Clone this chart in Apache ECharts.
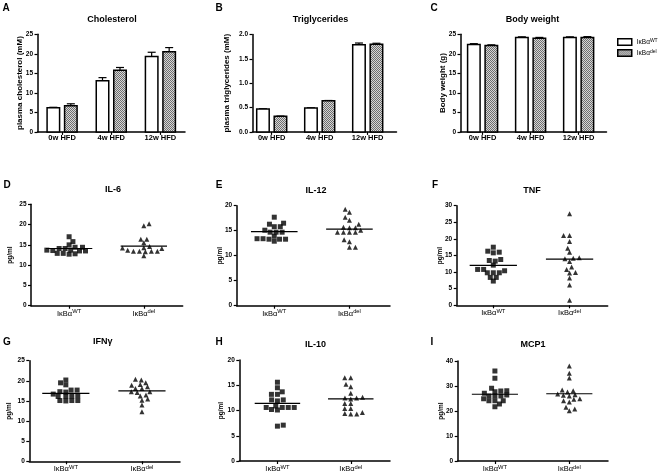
<!DOCTYPE html>
<html><head><meta charset="utf-8">
<script src="https://cdn.jsdelivr.net/npm/echarts@6/dist/echarts.min.js"></script>
<style>html,body{margin:0;padding:0;background:#fff}#c{width:661px;height:475px}</style>
</head><body><div id="c"></div>
<script>
// ---------------- DATA ----------------
const barCategories = ['0w HFD', '4w HFD', '12w HFD'];
const groupMain = ['IκBα', 'IκBα'];
const groupSup = ['WT', 'del'];

const cholWT = [6.2, 13.1, 19.3];
const cholWTErr = [0.1, 0.8, 1.1];
const cholDel = [6.7, 15.8, 20.5];
const cholDelErr = [0.5, 0.7, 1.1];

const tgWT = [0.47, 0.49, 1.79];
const tgWTErr = [0.005, 0.005, 0.035];
const tgDel = [0.32, 0.64, 1.80];
const tgDelErr = [0.005, 0.005, 0.02];

const bwWT = [22.4, 24.2, 24.2];
const bwWTErr = [0.2, 0.15, 0.15];
const bwDel = [22.1, 24.0, 24.2];
const bwDelErr = [0.2, 0.2, 0.2];

const il6WT = [17.0, 15.8, 15.0, 14.4, 14.4, 14.1, 14.1, 13.7, 13.5, 13.7, 13.6, 12.8, 12.7, 12.9, 12.9, 13.5];
const il6Del = [20.2, 19.7, 16.4, 16.4, 15.5, 14.6, 14.2, 14.3, 13.4, 13.4, 13.7, 13.3, 13.4, 13.4, 12.3, 14.1];
const il6Mean = [14.1, 14.7];

const il12WT = [17.7, 16.5, 16.3, 15.8, 15.8, 15.1, 14.7, 14.7, 14.7, 13.4, 13.3, 13.3, 13.3, 13.4, 13.9, 12.9];
const il12Del = [19.3, 18.7, 17.7, 17.1, 16.3, 15.7, 15.6, 15.1, 15.6, 14.7, 14.7, 14.7, 14.7, 12.8, 13.2, 11.7, 11.7];
const il12Mean = [14.8, 15.3];

const tnfWT = [17.5, 16.0, 15.8, 16.3, 13.5, 13.3, 13.8, 12.1, 10.8, 10.4, 10.8, 9.8, 9.8, 9.8, 8.4, 8.4, 7.3];
const tnfDel = [27.6, 21.0, 21.0, 19.2, 17.2, 16.0, 14.2, 14.0, 14.3, 13.2, 11.5, 10.8, 9.9, 9.7, 8.2, 6.1, 1.5];
const tnfMean = [12.0, 13.9];

const ifnWT = [20.2, 19.5, 19.0, 17.7, 17.3, 17.7, 16.7, 17.2, 16.2, 16.1, 16.3, 16.1, 15.1, 15.0, 15.1, 15.1];
const ifnDel = [20.4, 20.2, 19.1, 18.5, 19.5, 18.9, 18.1, 18.1, 17.3, 17.1, 17.3, 16.2, 16.5, 15.2, 15.5, 14.0, 12.3];
const ifnMean = [16.9, 17.5];

const il10WT = [15.6, 14.5, 13.7, 13.2, 13.2, 12.1, 12.1, 11.9, 10.6, 10.6, 10.6, 10.6, 10.9, 10.1, 10.2, 6.9, 7.1];
const il10Del = [16.5, 16.5, 15.2, 14.7, 13.4, 12.6, 12.5, 12.3, 12.5, 11.4, 11.4, 10.4, 10.4, 9.4, 9.3, 9.3, 9.6];
const il10Mean = [11.4, 12.3];

const mcpWT = [36.0, 33.1, 29.1, 28.0, 27.7, 28.1, 27.1, 26.4, 26.0, 26.0, 26.0, 24.1, 24.1, 24.1, 24.9, 22.8, 21.7];
const mcpDel = [38.0, 35.1, 33.2, 28.4, 27.6, 28.1, 26.8, 26.3, 26.0, 26.5, 24.9, 24.1, 23.6, 24.7, 21.5, 20.1, 20.8];
const mcpMean = [26.7, 26.9];

// ---------------- LAYOUT / STYLE ----------------
const FONT = '"Liberation Sans", Arial, Helvetica, sans-serif';

function makePattern() {
  const c = document.createElement('canvas'); c.width = 2; c.height = 2;
  const ctx = c.getContext('2d');
  ctx.fillStyle = '#d6d6d6'; ctx.fillRect(0, 0, 2, 2);
  ctx.fillStyle = '#6e6e6e'; ctx.fillRect(0, 0, 1, 1); ctx.fillRect(1, 1, 1, 1);
  return c;
}
const hatch = { image: makePattern(), repeat: 'repeat' };

const barPanels = [
  { letter: 'A', title: 'Cholesterol', yName: 'plasma cholesterol (mM)', wt: cholWT, wtErr: cholWTErr, del: cholDel, delErr: cholDelErr,
    ymax: 25, step: 5, dec: 0, grid: { left: 37.5, top: 34.3, width: 147.5, height: 97.6 }, xmin: 0.5, xmax: 3.5, nameGap: 13.3,
    tx: 112, ty: 19.5, lx: 6, ly: 8 },
  { letter: 'B', title: 'Triglycerides', yName: 'plasma triglycerides (mM)', wt: tgWT, wtErr: tgWTErr, del: tgDel, delErr: tgDelErr,
    ymax: 2, step: 0.5, dec: 1, grid: { left: 252.5, top: 34.5, width: 144, height: 97.4 }, xmin: 0.6, xmax: 3.6, nameGap: 21.5,
    tx: 320.5, ty: 20, lx: 219, ly: 8 },
  { letter: 'C', title: 'Body weight', yName: 'Body weight (g)', wt: bwWT, wtErr: bwWTErr, del: bwDel, delErr: bwDelErr,
    ymax: 25, step: 5, dec: 0, grid: { left: 460.5, top: 34.3, width: 146, height: 97.6 }, xmin: 0.54, xmax: 3.58, nameGap: 14,
    tx: 532.5, ty: 20, lx: 434, ly: 8 }
];

const dotPanels = [
  { letter: 'D', title: 'IL-6', wt: il6WT, del: il6Del, mean: il6Mean, ymax: 25, step: 5,
    grid: { left: 31, top: 204.3, width: 151.7, height: 101.4 }, xmin: 0.49, xmax: 2.52, nameGap: 17, tx: 113, ty: 190, lx: 7, ly: 185 },
  { letter: 'E', title: 'IL-12', wt: il12WT, del: il12Del, mean: il12Mean, ymax: 20, step: 5,
    grid: { left: 236.7, top: 205.7, width: 153.3, height: 100 }, xmin: 0.5, xmax: 2.54, nameGap: 12.5, tx: 316, ty: 190.7, lx: 219, ly: 185 },
  { letter: 'F', title: 'TNF', wt: tnfWT, del: tnfDel, mean: tnfMean, ymax: 30, step: 5,
    grid: { left: 456.7, top: 205.7, width: 151, height: 99.6 }, xmin: 0.52, xmax: 2.5, nameGap: 13, tx: 532, ty: 190.7, lx: 435, ly: 185 },
  { letter: 'G', title: 'IFNγ', wt: ifnWT, del: ifnDel, mean: ifnMean, ymax: 25, step: 5,
    grid: { left: 29.3, top: 360.7, width: 150.7, height: 100.6 }, xmin: 0.52, xmax: 2.5, nameGap: 16.3, tx: 102.7, ty: 341.5, lx: 7, ly: 342 },
  { letter: 'H', title: 'IL-10', wt: il10WT, del: il10Del, mean: il10Mean, ymax: 20, step: 5,
    grid: { left: 239.3, top: 360, width: 150.7, height: 101 }, xmin: 0.48, xmax: 2.535, nameGap: 14.8, tx: 315.5, ty: 344.5, lx: 219, ly: 342 },
  { letter: 'I', title: 'MCP1', wt: mcpWT, del: mcpDel, mean: mcpMean, ymax: 40, step: 10,
    grid: { left: 457.7, top: 361, width: 150.3, height: 100 }, xmin: 0.5, xmax: 2.52, nameGap: 12.5, tx: 533, ty: 345, lx: 432, ly: 342 }
];

// beeswarm arrangement: each dot keeps its value and is pushed sideways just enough
// to clear an elliptical exclusion zone (a wide, b tall) around its neighbours
function beeswarm(values, center, pxX, pxY, a, b) {
  const order = values.map((v, i) => i).sort((p, q) => values[p] - values[q]);
  const placed = [], out = [];
  order.forEach((i) => {
    const y = values[i] * pxY;
    const iv = [];
    placed.forEach((p) => {
      const dy = Math.abs(p.y - y);
      if (dy < b) { const w = a * Math.sqrt(1 - (dy / b) * (dy / b)); iv.push([p.x - w, p.x + w]); }
    });
    const sum = placed.reduce((s, p) => s + p.x, 0);
    const pref = sum > 0 ? -1 : 1;
    const cands = [0];
    iv.forEach((r) => cands.push(r[0], r[1]));
    cands.sort((m, n) => (Math.abs(m) - Math.abs(n)) || (m * pref > 0 ? -1 : 1));
    let x = 0;
    for (const c of cands) {
      if (iv.every((r) => c <= r[0] + 1e-6 || c >= r[1] - 1e-6)) { x = c; break; }
    }
    placed.push({ x: x, y: y });
    out.push([center + x / pxX, values[i]]);
  });
  return out;
}

const lineStyleAxis = { color: '#000', width: 1.5 };
const tickStyle = { color: '#000', width: 1.2 };
const supRich = {
  m: { fontSize: 7.5, fontFamily: FONT, color: '#000', lineHeight: 9, verticalAlign: 'bottom' },
  s: { fontSize: 5.8, fontFamily: FONT, color: '#000', lineHeight: 2, verticalAlign: 'top' }
};

const grids = [], xAxes = [], yAxes = [], series = [], graphics = [];

function yAxisOpt(gi, p, name, fmt, nameSize) {
  return {
    type: 'value', gridIndex: gi, min: 0, max: p.ymax, interval: p.step,
    axisLine: { show: true, onZero: false, lineStyle: lineStyleAxis },
    axisTick: { show: true, length: 3, lineStyle: tickStyle },
    axisLabel: { margin: 4.5, fontSize: 6.5, fontWeight: 'bold', fontFamily: FONT, color: '#000', formatter: fmt },
    splitLine: { show: false },
    name: name, nameLocation: 'middle', nameGap: p.nameGap, nameMoveOverlap: false,
    nameTextStyle: { fontSize: nameSize, fontWeight: 'bold', fontFamily: FONT, color: '#000' }
  };
}

function addText(x, y, text, size, weight) {
  graphics.push({ type: 'text', x: x, y: y, silent: true,
    style: { text: text, fill: '#000', font: weight + ' ' + size + 'px ' + FONT, textAlign: 'center', textVerticalAlign: 'middle' } });
}

function barRender(side, fill) {
  return function (params, api) {
    const x = api.value(0), v = api.value(1), e = api.value(2);
    const base = api.coord([x, 0]);
    const top = api.coord([x, v]);
    const et = api.coord([x, v + e]);
    const bw = 12.5, gap = 5;
    const cx = base[0] + side * (gap / 2 + bw / 2);
    return { type: 'group', children: [
      { type: 'line', shape: { x1: cx, y1: top[1], x2: cx, y2: et[1] }, style: { stroke: '#000', lineWidth: 1.2 } },
      { type: 'line', shape: { x1: cx - 4, y1: et[1], x2: cx + 4, y2: et[1] }, style: { stroke: '#000', lineWidth: 1.2 } },
      { type: 'rect', shape: { x: cx - bw / 2, y: top[1], width: bw, height: base[1] - top[1] }, style: { fill: fill, stroke: '#000', lineWidth: 1.5 } }
    ] };
  };
}

let gi = 0;
barPanels.forEach((p) => {
  grids.push(Object.assign({ containLabel: false }, p.grid));
  xAxes.push({
    type: 'value', gridIndex: gi, min: p.xmin, max: p.xmax,
    axisLine: { show: true, onZero: false, lineStyle: lineStyleAxis },
    axisTick: { show: true, length: 3, customValues: [1, 2, 3], lineStyle: tickStyle },
    axisLabel: { show: true, customValues: [1, 2, 3], margin: 2, fontSize: 7.5, fontWeight: 'bold', fontFamily: FONT, color: '#000',
      formatter: (v) => barCategories[Math.round(v) - 1] },
    splitLine: { show: false }
  });
  yAxes.push(yAxisOpt(gi, p, p.yName, (v) => p.dec ? v.toFixed(p.dec) : String(v), 8));
  series.push({ type: 'custom', name: 'WT', xAxisIndex: gi, yAxisIndex: gi, itemStyle: { color: '#fff', borderColor: '#000' },
    renderItem: barRender(-1, '#fff'), data: p.wt.map((v, i) => [i + 1, v, p.wtErr[i]]) });
  series.push({ type: 'custom', name: 'del', xAxisIndex: gi, yAxisIndex: gi, itemStyle: { color: hatch, borderColor: '#000' },
    renderItem: barRender(1, hatch), data: p.del.map((v, i) => [i + 1, v, p.delErr[i]]) });
  addText(p.tx, p.ty, p.title, 9, 'bold');
  addText(p.lx, p.ly, p.letter, 10, 'bold');
  gi++;
});

dotPanels.forEach((p) => {
  grids.push(Object.assign({ containLabel: false }, p.grid));
  xAxes.push({
    type: 'value', gridIndex: gi, min: p.xmin, max: p.xmax,
    axisLine: { show: true, onZero: false, lineStyle: lineStyleAxis },
    axisTick: { show: true, length: 3, customValues: [1, 2], lineStyle: tickStyle },
    axisLabel: { show: true, customValues: [1, 2], margin: 3, rich: supRich,
      formatter: (v) => { const k = Math.round(v) - 1; return '{m|' + groupMain[k] + '}{s|' + groupSup[k] + '}'; } },
    splitLine: { show: false }
  });
  yAxes.push(yAxisOpt(gi, p, 'pg/ml', (v) => String(v), 6.5));
  const pxX = p.grid.width / (p.xmax - p.xmin);
  const pxY = p.grid.height / p.ymax;
  series.push({ type: 'scatter', name: p.title + ' WT', xAxisIndex: gi, yAxisIndex: gi, symbol: 'rect', symbolSize: 5,
    itemStyle: { color: '#000' }, data: beeswarm(p.wt, 1, pxX, pxY, 6, 4.2), z: 2 });
  series.push({ type: 'scatter', name: p.title + ' del', xAxisIndex: gi, yAxisIndex: gi, symbol: 'triangle', symbolSize: [5, 5],
    itemStyle: { color: '#000' }, data: beeswarm(p.del, 2, pxX, pxY, 6, 4.2), z: 2 });
  series.push({ type: 'custom', name: p.title + ' mean', xAxisIndex: gi, yAxisIndex: gi, z: 3,
    data: p.mean.map((m, i) => [i + 1, m]),
    renderItem: (params, api) => {
      const a = api.coord([api.value(0) - 0.31, api.value(1)]);
      const b = api.coord([api.value(0) + 0.31, api.value(1)]);
      return { type: 'line', shape: { x1: a[0], y1: a[1], x2: b[0], y2: b[1] }, style: { stroke: '#000', lineWidth: 1.2 } };
    } });
  addText(p.tx, p.ty, p.title, 9, 'bold');
  addText(p.lx, p.ly, p.letter, 10, 'bold');
  gi++;
});

const option = {
  animation: false,
  backgroundColor: '#fff',
  grid: grids, xAxis: xAxes, yAxis: yAxes, series: series, graphic: graphics,
  legend: {
    left: 612, top: 33, orient: 'vertical', itemWidth: 14, itemHeight: 6.5, itemGap: 3, selectedMode: false,
    icon: 'rect',
    data: [
      { name: 'WT', itemStyle: { color: '#fff', borderColor: '#000', borderWidth: 1.5 } },
      { name: 'del', itemStyle: { color: hatch, borderColor: '#000', borderWidth: 1.5 } }
    ],
    formatter: (n) => '{m|' + groupMain[0] + '}{s|' + n + '}',
    textStyle: { rich: {
      m: { fontSize: 6.5, fontFamily: FONT, color: '#000', lineHeight: 8, verticalAlign: 'bottom' },
      s: { fontSize: 5, fontFamily: FONT, color: '#000', lineHeight: 1, verticalAlign: 'top' }
    } }
  }
};

const chart = echarts.init(document.getElementById('c'), null, { renderer: 'canvas' });
chart.setOption(option);
</script>
</body></html>
